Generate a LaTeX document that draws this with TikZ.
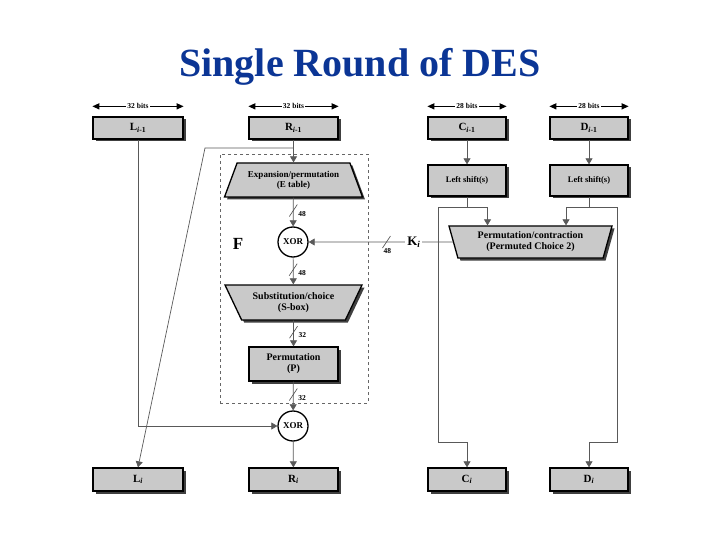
\documentclass[tikz,border=0pt]{standalone}
\usepackage{fontspec}
\setmainfont{Liberation Serif}
\usetikzlibrary{positioning,arrows.meta,shapes.geometric,shadows,calc}
\definecolor{titleblue}{HTML}{0B3595}
\definecolor{boxgray}{HTML}{C9C9C9}

\tikzset{
  buswidth/.pic={\draw[black!70, line width=0.6pt] (-4pt,-6pt) -- (4pt,6pt);
    \node[text=black, font=\bfseries\fontsize{7.5}{8}\selectfont, anchor=west, inner sep=1pt] at (4pt,-3pt) {\tikzpictext};},
  buswidthbelow/.pic={\draw[black!70, line width=0.6pt] (-4pt,-6pt) -- (4pt,6pt);
    \node[text=black, font=\bfseries\fontsize{7.5}{8}\selectfont, anchor=north, inner sep=1pt] at (1pt,-5pt) {\tikzpictext};},
}

\begin{document}
\begin{tikzpicture}[x=1pt, y=-1pt,
    font=\bfseries\fontsize{8.5}{9.5}\selectfont,
    reg/.style={draw=black, line width=1.3pt, fill=boxgray, minimum height=22pt, inner sep=1pt, align=center,
                drop shadow={shadow xshift=2.5pt, shadow yshift=-2.5pt, fill=black!75, opacity=1}},
    regname/.style={reg, font=\bfseries\fontsize{11}{12}\selectfont},
    trap/.style={reg, trapezium, trapezium stretches body, trapezium left angle=#1, trapezium right angle=#1},
    xorgate/.style={circle, draw=black, line width=1.3pt, fill=white, minimum size=30pt, inner sep=0pt,
                    font=\bfseries\fontsize{9}{10}\selectfont},
    flow/.style={-{Triangle[length=6pt, width=7pt]}, black!65, line width=0.7pt},
    link/.style={black!65, line width=0.7pt},
    bits/.style={{Triangle[length=7pt, width=6pt]}-{Triangle[length=7pt, width=6pt]}, black, line width=1.3pt},
    bitslabel/.style={fill=white, inner sep=1pt, font=\bfseries\fontsize{7.5}{8}\selectfont},
]
  \useasboundingbox (0,0) rectangle (720,540);
  \node[font=\bfseries\fontsize{40}{44}\selectfont, text=titleblue] (title) at (360,67) {Single Round of DES};

  %% round inputs
  \node[regname, minimum width=90pt] (Lprev) at (138,128) {L\textsubscript{\textit{i}-1}};
  \node[regname, minimum width=89pt] (Rprev) at (293.5,128) {R\textsubscript{\textit{i}-1}};
  \node[regname, minimum width=78pt] (Cprev) at (467,128) {C\textsubscript{\textit{i}-1}};
  \node[regname, minimum width=78pt] (Dprev) at (589,128) {D\textsubscript{\textit{i}-1}};
  \draw[bits] ([yshift=10pt]Lprev.north west) -- ([yshift=10pt]Lprev.north east) node[midway, bitslabel] {32 bits};
  \draw[bits] ([yshift=10pt]Rprev.north west) -- ([yshift=10pt]Rprev.north east) node[midway, bitslabel] {32 bits};
  \draw[bits] ([yshift=10pt]Cprev.north west) -- ([yshift=10pt]Cprev.north east) node[midway, bitslabel] {28 bits};
  \draw[bits] ([yshift=10pt]Dprev.north west) -- ([yshift=10pt]Dprev.north east) node[midway, bitslabel] {28 bits};

  %% function F
  \node[draw=black!60, dashed, line width=0.6pt, minimum width=148pt, minimum height=249pt] (fbox) at (294,278.5) {};
  \node[font=\bfseries\fontsize{17}{18}\selectfont] (flabel) at (238,244) {F};
  \node[trap=58, minimum width=138pt, minimum height=34pt, font=\bfseries\fontsize{9}{10}\selectfont] (etab)
        at (293.5,180) {Expansion/permutation\\(E table)};
  \node[xorgate] (xor1) at (293,242) {XOR};
  \node[trap=53, shape border rotate=180, minimum width=137pt, minimum height=35pt, font=\bfseries\fontsize{10}{11}\selectfont]
        (sbox) at (293.5,302.5) {Substitution/choice\\(S-box)};
  \node[reg, minimum width=89pt, minimum height=34pt, font=\bfseries\fontsize{10}{11}\selectfont] (perm)
        at (293.5,364) {Permutation\\(P)};
  \node[xorgate] (xor2) at (293,426) {XOR};

  %% key schedule
  \node[reg, minimum width=78pt, minimum height=31pt] (Cshift) at (467,180.5) {Left shift(s)};
  \node[reg, minimum width=78pt, minimum height=31pt] (Dshift) at (589,180.5) {Left shift(s)};
  \node[trap=68, shape border rotate=180, minimum width=163pt, minimum height=32pt, font=\bfseries\fontsize{10}{11}\selectfont]
        (pc2) at (530.5,242) {Permutation/contraction\\(Permuted Choice 2)};

  %% round outputs
  \node[regname, minimum width=90pt, minimum height=23pt] (Lnew) at (138,479.5) {L\textsubscript{\textit{i}}};
  \node[regname, minimum width=89pt, minimum height=23pt] (Rnew) at (293.5,479.5) {R\textsubscript{\textit{i}}};
  \node[regname, minimum width=78pt, minimum height=23pt] (Cnew) at (467,479.5) {C\textsubscript{\textit{i}}};
  \node[regname, minimum width=78pt, minimum height=23pt] (Dnew) at (589,479.5) {D\textsubscript{\textit{i}}};

  %% data path
  \coordinate (rsplit) at (293.5,148); \coordinate (rbend) at (205,148);
  \draw[flow] (Rprev) -- (etab);
  \draw[flow] (rsplit) -- (rbend) -- (Lnew.north);
  \draw[flow] (Lprev.south) |- (xor2.west);
  \draw[flow] (etab) -- (xor1); \draw[flow] (xor1) -- (sbox); \draw[flow] (sbox) -- (perm);
  \draw[flow] (perm) -- (xor2); \draw[flow] (xor2) -- (Rnew);
  \pic[pic text=48] at ($(etab.south)!0.45!(xor1.north)$) {buswidth};
  \pic[pic text=48] at ($(xor1.south)!0.45!(sbox.north)$) {buswidth};
  \pic[pic text=32] at ($(sbox.south)!0.45!(perm.north)$) {buswidth};
  \pic[pic text=32] at ($(perm.south)!0.45!(xor2.north)$) {buswidth};
  \draw[flow] (pc2.west) -- node[pos=0.27, fill=white, text=black, inner sep=2pt, font=\bfseries\fontsize{13}{14}\selectfont]
        (ki) {K\textsubscript{\textit{i}}} (xor1.east);
  \pic[pic text=48] at ($(pc2.west)!0.46!(xor1.east)$) {buswidthbelow};

  %% key path
  \coordinate (csplit) at (467,207); \coordinate (cbend) at (438,442);
  \coordinate (dsplit) at (589,207); \coordinate (dbend) at (617,442);
  \draw[link] (Cshift) -- (csplit); \draw[link] (Dshift) -- (dsplit);
  \draw[flow] (csplit) -| ([xshift=-43pt]pc2.north);
  \draw[flow] (dsplit) -| ([xshift=35.5pt]pc2.north);
  \draw[flow] (csplit) -| (cbend) -| (Cnew.north);
  \draw[flow] (dsplit) -| (dbend) -| (Dnew.north);
  \draw[flow] (Cprev) -- (Cshift); \draw[flow] (Dprev) -- (Dshift);
\end{tikzpicture}
\end{document}
